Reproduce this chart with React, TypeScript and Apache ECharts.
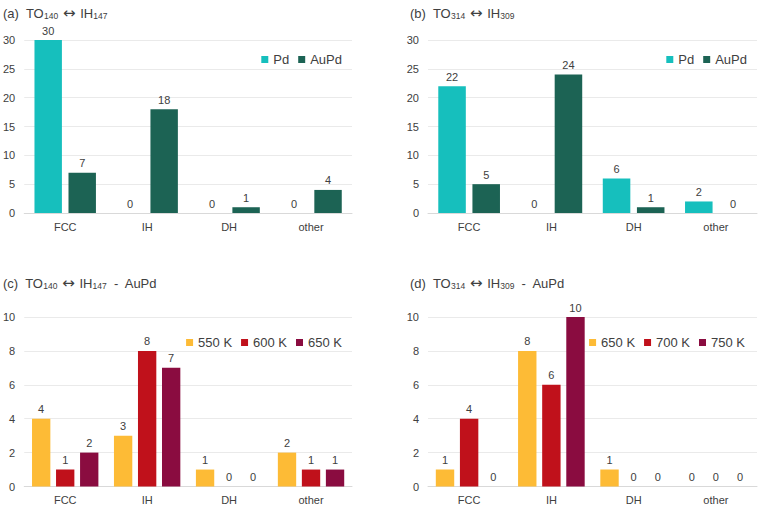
import React, { useEffect, useRef } from "react";
import * as echarts from "echarts";

const categories = ["FCC", "IH", "DH", "other"];

// (a) TO140 <-> IH147
const aPd = [30, 0, 0, 0];
const aAuPd = [7, 18, 1, 4];
// (b) TO314 <-> IH309
const bPd = [22, 0, 6, 2];
const bAuPd = [5, 24, 1, 0];
// (c) TO140 <-> IH147 - AuPd
const c550 = [4, 3, 1, 2];
const c600 = [1, 8, 0, 1];
const c650 = [2, 7, 0, 1];
// (d) TO314 <-> IH309 - AuPd
const d650 = [1, 8, 1, 0];
const d700 = [4, 6, 0, 0];
const d750 = [0, 10, 0, 0];

const FONT = "'Liberation Sans', Arial, sans-serif";
const TEAL = "#16BFBD";
const DKGREEN = "#1C6354";
const YELLOW = "#FDBB36";
const RED = "#C0111B";
const MAROON = "#8A0C40";

type SeriesDef = { name: string; data: number[]; color: string };

type PanelDef = {
  left: number;
  top: number;
  width: number;
  height: number;
  titleParts: { code: string; a: string; b: string; suffix: string; x: number; y: number };
  grid: { left: number; top: number; width: number; height: number };
  yMax: number;
  yInterval: number;
  series: SeriesDef[];
  legend: { right: number; top: number };
  barCategoryGap: string;
  barGap: string;
};

const panels: PanelDef[] = [
  {
    left: 0, top: 0, width: 380, height: 254,
    titleParts: { code: "(a)", a: "140", b: "147", suffix: "", x: 3, y: 4 },
    grid: { left: 22, top: 40, width: 330, height: 173 },
    yMax: 30, yInterval: 5,
    series: [
      { name: "Pd", data: aPd, color: TEAL },
      { name: "AuPd", data: aAuPd, color: DKGREEN },
    ],
    legend: { right: 33, top: 48 },
    barCategoryGap: "25%", barGap: "24%",
  },
  {
    left: 380, top: 0, width: 379, height: 254,
    titleParts: { code: "(b)", a: "314", b: "309", suffix: "", x: 30, y: 4 },
    grid: { left: 48, top: 40, width: 329, height: 173 },
    yMax: 30, yInterval: 5,
    series: [
      { name: "Pd", data: bPd, color: TEAL },
      { name: "AuPd", data: bAuPd, color: DKGREEN },
    ],
    legend: { right: 7, top: 48 },
    barCategoryGap: "25%", barGap: "24%",
  },
  {
    left: 0, top: 254, width: 380, height: 253,
    titleParts: { code: "(c)", a: "140", b: "147", suffix: "  -  AuPd", x: 3, y: 20 },
    grid: { left: 22, top: 63, width: 330, height: 169.5 },
    yMax: 10, yInterval: 2,
    series: [
      { name: "550 K", data: c550, color: YELLOW },
      { name: "600 K", data: c600, color: RED },
      { name: "650 K", data: c650, color: MAROON },
    ],
    legend: { right: 33, top: 77 },
    barCategoryGap: "19%", barGap: "31%",
  },
  {
    left: 380, top: 254, width: 379, height: 253,
    titleParts: { code: "(d)", a: "314", b: "309", suffix: "  -  AuPd", x: 30, y: 20 },
    grid: { left: 48, top: 63, width: 329, height: 169.5 },
    yMax: 10, yInterval: 2,
    series: [
      { name: "650 K", data: d650, color: YELLOW },
      { name: "700 K", data: d700, color: RED },
      { name: "750 K", data: d750, color: MAROON },
    ],
    legend: { right: 9, top: 77 },
    barCategoryGap: "19%", barGap: "31%",
  },
];

function Panel({ def }: { def: PanelDef }) {
  const ref = useRef<HTMLDivElement>(null);
  useEffect(() => {
    if (!ref.current) return;
    const chart = echarts.init(ref.current, undefined, { renderer: "svg" });
    const t = def.titleParts;
    chart.setOption({
      animation: false,
      textStyle: { fontFamily: FONT },
      title: {
        left: t.x,
        top: t.y,
        padding: 0,
        text: `{m|${t.code}  TO}{s|${t.a}}{ar| ↔ }{m|IH}{s|${t.b}}{m|${t.suffix}}`,
        textStyle: {
          fontFamily: FONT,
          fontWeight: "normal",
          rich: {
            m: { fontSize: 13, color: "#404040", fontFamily: FONT, fontWeight: "normal", lineHeight: 16, verticalAlign: "bottom" },
            ar: { fontSize: 15, color: "#404040", fontFamily: "'DejaVu Sans', sans-serif", fontWeight: "normal", lineHeight: 16, verticalAlign: "bottom" },
            s: { fontSize: 8.5, color: "#404040", fontFamily: FONT, fontWeight: "normal", lineHeight: 16, verticalAlign: "bottom", padding: [5, 0, 0, 0] },
          },
        },
      },
      legend: {
        right: def.legend.right,
        top: def.legend.top,
        itemWidth: 7,
        itemHeight: 7,
        itemGap: 9,
        icon: "rect",
        textStyle: { fontSize: 13, color: "#404040", fontFamily: FONT },
        data: def.series.map((s) => s.name),
      },
      grid: { ...def.grid, containLabel: false },
      xAxis: {
        type: "category",
        data: categories,
        axisLine: { lineStyle: { color: "#D9D9D9", width: 1 } },
        axisTick: { show: false },
        axisLabel: { fontSize: 11, color: "#404040", margin: 8, fontFamily: FONT },
      },
      yAxis: {
        type: "value",
        min: 0,
        max: def.yMax,
        interval: def.yInterval,
        axisLine: { show: false },
        axisTick: { show: false },
        splitLine: { lineStyle: { color: "#EAEAEA", width: 1 } },
        axisLabel: { fontSize: 11, color: "#404040", margin: 9, fontFamily: FONT },
      },
      series: def.series.map((s) => ({
        type: "bar",
        name: s.name,
        data: s.data,
        barCategoryGap: def.barCategoryGap,
        barGap: def.barGap,
        itemStyle: { color: s.color },
        label: {
          show: true,
          position: "top",
          distance: 4,
          fontSize: 11,
          color: "#404040",
          fontFamily: FONT,
        },
      })),
    });
    return () => chart.dispose();
  }, [def]);
  return (
    <div
      ref={ref}
      style={{
        position: "absolute",
        left: def.left,
        top: def.top,
        width: def.width,
        height: def.height,
      }}
    />
  );
}

export default function App() {
  return (
    <div
      style={{
        position: "fixed",
        left: 0,
        top: 0,
        width: 759,
        height: 507,
        background: "#ffffff",
        overflow: "hidden",
      }}
    >
      {panels.map((p, i) => (
        <Panel key={i} def={p} />
      ))}
    </div>
  );
}
